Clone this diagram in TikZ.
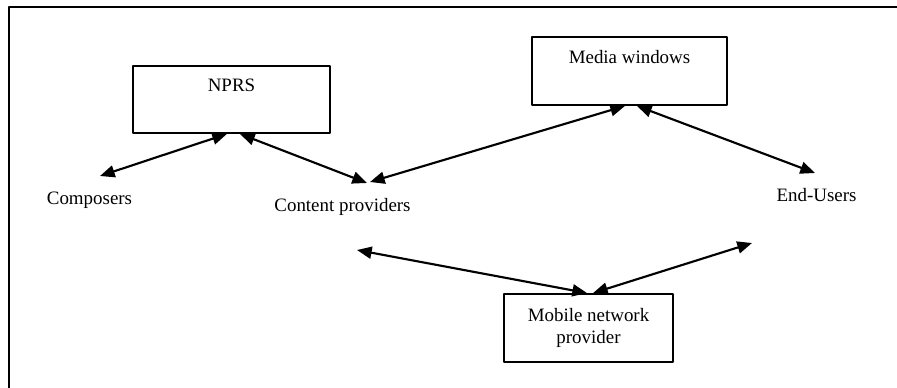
\documentclass[tikz,border=0pt]{standalone}
\usepackage{fontspec}
\setmainfont{Liberation Serif}
\usetikzlibrary{arrows.meta}

\tikzset{
    box/.style={draw, line width=1.4pt, align=center, inner sep=0pt},
    party/.style={anchor=base, inner sep=0pt},
    link/.style={{Triangle[length=11pt,width=9pt]}-{Triangle[length=11pt,width=9pt]}, line width=1.6pt}
}

\begin{document}
\begin{tikzpicture}[line cap=round, line join=round, x=0.75pt, y=-0.75pt,
        font=\fontsize{14.2}{16.5}\selectfont]
                \useasboundingbox (0,0) rectangle (897,388);
                \draw[line width=1.5pt, line cap=butt] (9,388) -- (9,7) -- (897,7);
                % the three boxes
                \node[box, minimum width=147.75pt, minimum height=50.25pt] (nprs) at (231.5,99.5) {NPRS\\\strut};
                \node[box, minimum width=146.25pt, minimum height=51pt] (media) at (629.5,71) {Media windows\\\strut};
                \node[box, minimum width=126.75pt, minimum height=51pt] (mobile) at (588.5,328) {Mobile network\\provider};
                % the parties
                \node[party] (composers) at (89.5,205) {Composers};
                \node[party] (content) at (342.5,212) {Content providers};
                \node[party] (users) at (816.5,202) {End-Users};
                \coordinate (comp-top) at (100,176);
                \coordinate (cont-a) at (367,183);
                \coordinate (cont-b) at (370,182);
                \coordinate (cont-low) at (357,250);
                \coordinate (user-top) at (815,173);
                \coordinate (user-low) at (752,243);
                \coordinate (nprs-a) at ([xshift=-3.4pt]nprs.south);
                \coordinate (nprs-b) at ([xshift=6.4pt]nprs.south);
                \coordinate (media-a) at ([xshift=-3.4pt]media.south);
                \coordinate (media-b) at ([xshift=5.6pt]media.south);
                \coordinate (mobile-a) at ([xshift=-1.1pt]mobile.north);
                \coordinate (mobile-b) at ([xshift=3.4pt]mobile.north);
                \foreach \from/\to in {comp-top/nprs-a, nprs-b/cont-a, cont-b/media-a,
                        media-b/user-top, cont-low/mobile-a, mobile-b/user-low}
                    \draw[link] (\from) -- (\to);
            \end{tikzpicture}
\end{document}
